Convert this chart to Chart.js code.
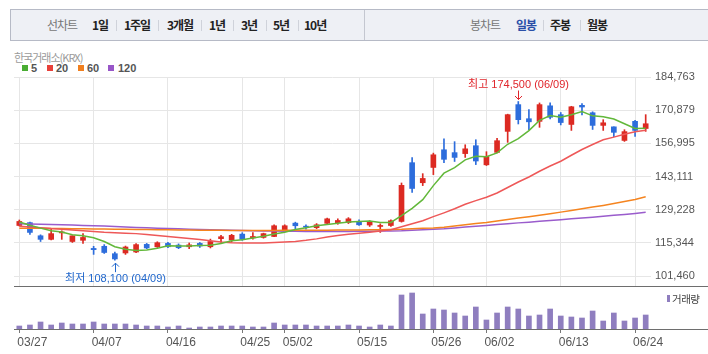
<!DOCTYPE html>
<html>
<head>
<meta charset="utf-8">
<script src="https://cdn.jsdelivr.net/npm/chart.js@4.4.1/dist/chart.umd.min.js"></script>
<style>
body { margin: 0; width: 708px; height: 354px; overflow: hidden; background: #fff; position: relative;
  font-family: "Noto Sans CJK KR", "Liberation Sans", sans-serif; }
.bar { position: absolute; left: 10px; top: 9px; width: 698px; height: 30px; background: #eef0f5;
  border: 1px solid #b6bac6; border-right: none; }
.div { position: absolute; left: 364px; top: 10px; width: 1px; height: 30px; background: #c4c7d0; }
.t { position: absolute; top: 17px; font-size: 12px; line-height: 16px; letter-spacing: -1px; color: #222;
  font-weight: bold; white-space: nowrap; }
.g { color: #777; font-weight: normal; }
.on { color: #2a4fa8; }
.sep { position: absolute; top: 20px; width: 1px; height: 11px; background: #cfd2da; }
.krx { position: absolute; left: 14px; top: 50px; font-size: 11px; line-height: 14px; color: #9a9a9a; letter-spacing: -1px; }
.sq { position: absolute; top: 65px; width: 6px; height: 6px; }
.lg { position: absolute; top: 61px; font: bold 11px/14px "Liberation Sans", sans-serif; color: #555; }
canvas { position: absolute; left: 0; }
.vol { position: absolute; left: 672px; top: 292px; font-size: 10.5px; line-height: 14px; color: #444; letter-spacing: -0.5px; }
</style>
</head>
<body>
<div class="bar"></div>
<div class="div"></div>
<span class="t g" style="left:47px">선차트</span>
<span class="t" style="left:92px">1일</span><i class="sep" style="left:116px"></i>
<span class="t" style="left:124px">1주일</span><i class="sep" style="left:158px"></i>
<span class="t" style="left:167px">3개월</span><i class="sep" style="left:201px"></i>
<span class="t" style="left:209px">1년</span><i class="sep" style="left:233px"></i>
<span class="t" style="left:241px">3년</span><i class="sep" style="left:266px"></i>
<span class="t" style="left:273px">5년</span><i class="sep" style="left:298px"></i>
<span class="t" style="left:304px">10년</span>
<span class="t g" style="left:470px">봉차트</span>
<span class="t on" style="left:516px">일봉</span><i class="sep" style="left:543px"></i>
<span class="t" style="left:550px">주봉</span><i class="sep" style="left:580px"></i>
<span class="t" style="left:587px">월봉</span>

<div class="krx">한국거래소(KRX)</div>
<i class="sq" style="left:22px;background:#49ad33"></i><span class="lg" style="left:31px">5</span>
<i class="sq" style="left:47px;background:#e8403a"></i><span class="lg" style="left:56px">20</span>
<i class="sq" style="left:78px;background:#f07f1f"></i><span class="lg" style="left:87px">60</span>
<i class="sq" style="left:108px;background:#9856c8"></i><span class="lg" style="left:118px">120</span>

<canvas id="price" width="708" height="287" style="top:0"></canvas>
<canvas id="volume" width="708" height="67" style="top:287px"></canvas>
<i class="sq" style="left:667px;top:295px;width:3px;height:7px;background:#8f7ebf"></i>
<div class="vol">거래량</div>

<script>
// 일봉 데이터 (2025)
const dates = ['03/27','03/28','03/31','04/01','04/02','04/03','04/04','04/07','04/08','04/09',
  '04/10','04/11','04/14','04/15','04/16','04/17','04/18','04/21','04/22','04/23',
  '04/24','04/25','04/28','04/29','04/30','05/02','05/07','05/08','05/09','05/12',
  '05/13','05/14','05/15','05/16','05/19','05/20','05/21','05/22','05/23','05/26',
  '05/27','05/28','05/29','05/30','06/02','06/04','06/05','06/09','06/10','06/11',
  '06/12','06/13','06/16','06/17','06/18','06/19','06/20','06/23','06/24','06/25'];
const tickDates = ['03/27','04/07','04/16','04/25','05/02','05/15','05/26','06/02','06/13','06/24'];
const priceTicks = [101460, 115344, 129228, 143111, 156995, 170879, 184763];

const opens = [122600,123800,118300,116800,119500,115900,116400,113000,113900,110800,
  111100,111500,114700,113700,115100,114400,113700,115100,113700,117100,
  116500,119000,117400,117600,118000,120800,123600,122300,121700,123500,
  123800,123800,124200,122800,122200,122600,124300,148900,140500,146900,
  154300,153100,152700,156000,148000,153200,162000,173200,167300,166200,
  172700,169000,164900,172900,169800,164500,163900,158200,166200,163200];
const highs = [124900,124000,118700,121300,120400,118300,119200,113900,114600,111500,
  114000,115000,115100,115800,115600,114900,115300,115500,116900,118500,
  118900,119600,119600,119400,122900,122900,124000,122900,123400,125700,
  125400,125900,125000,124600,123300,125000,140400,151000,144300,152900,
  158900,157700,156400,158500,153500,159100,169200,174500,171100,173900,
  173900,169900,172500,173600,170200,166900,163900,162700,166600,169000];
const lows = [122400,118900,115900,116600,116800,115500,115100,110500,110900,108100,
  110500,111200,112900,113400,113300,112900,112900,113400,113200,115500,
  115700,116400,116900,117300,117900,120100,120800,121100,121300,123100,
  123100,123400,122600,122200,119700,122200,124000,136500,139300,143900,
  148900,149400,151100,148100,147700,153000,157400,165100,162700,163700,
  167200,164700,162400,168900,162800,162400,159800,157800,159900,162000];
const closes = [124300,119700,116800,119200,119700,118300,117600,112500,111300,108600,
  113600,114600,113200,115400,113700,113300,114500,114000,115900,117900,
  118500,116800,118000,119200,122500,122500,122500,121900,122900,125400,
  124700,125400,122900,124200,122500,124600,139400,138100,142300,152200,
  150300,151100,154700,149600,151500,158100,169000,166900,166000,173200,
  167900,165700,172300,172200,164500,165600,161600,161900,162400,165200];

// 이동평균선
const ma5 = [124100,122700,121500,120400,119900,118700,118300,117500,115900,113700,
  112700,112100,112300,113100,114100,114000,114000,114200,114300,115100,
  116200,116600,117400,118100,119000,119800,120900,121700,122500,123000,
  123500,124100,124300,124500,123900,123900,126700,129800,133400,139300,
  144500,146800,150100,151600,151400,153000,156600,159000,162300,166600,
  168600,167900,169000,170300,168500,168100,167200,165200,163200,163300];
const ma20 = [122300,122000,121700,121300,121000,120700,120400,120100,119800,119600,
  119400,119200,118800,118400,118000,117600,117200,116700,116200,115700,
  115400,115300,115300,115300,115500,115700,115900,116400,117000,117800,
  118400,118900,119400,119800,120300,120800,122100,123300,124600,126300,
  127900,129600,131500,133000,134400,136200,138500,140800,142900,145300,
  147500,149500,152000,154400,156500,158500,159600,160800,161800,162500];
const ma60 = [121500,121450,121400,121350,121300,121250,121200,121150,121100,121050,
  121000,120950,120900,120850,120800,120750,120700,120650,120600,120600,
  120550,120550,120550,120550,120550,120600,120600,120600,120650,120650,
  120700,120700,120750,120800,120850,120950,121000,121200,121400,121600,
  121900,122400,122900,123400,123900,124500,125100,125700,126300,126900,
  127500,128200,128900,129600,130300,131000,131800,132600,133500,134600];
const ma120 = [123300,123200,123100,123000,122900,122800,122650,122500,122350,122200,
  122000,121800,121650,121500,121350,121200,121050,120900,120800,120700,
  120600,120500,120400,120300,120250,120200,120150,120100,120100,120100,
  120100,120100,120150,120200,120250,120300,120400,120600,120800,121000,
  121250,121600,121950,122300,122650,123000,123350,123700,124000,124350,
  124700,125050,125400,125750,126100,126450,126850,127250,127650,128100];

// 거래량 (천주)
const volume = [300,400,700,400,600,500,500,700,500,500,
  500,400,300,300,200,300,100,200,200,300,
  300,300,200,200,600,400,400,400,300,300,
  300,400,300,200,400,300,3400,3600,1500,2000,
  1900,1600,1300,2200,900,1600,2200,2000,1300,1400,
  2000,1300,1200,1100,1800,800,1600,800,1100,1400];

const UP = '#dc2a22', DOWN = '#2d6ddc';
const candleColors = opens.map((o, i) => closes[i] >= o ? UP : DOWN);
const tickIdx = tickDates.map(d => dates.indexOf(d));

Chart.defaults.font.family = '"Liberation Sans", Arial, sans-serif';
Chart.defaults.color = '#555';

const sepLine = {
  id: 'sepLine',
  afterDraw(chart, args, opts) {
    const ctx = chart.ctx;
    const y = Math.round(chart.chartArea.bottom) - 0.5 + (opts.shift || 0);
    ctx.save();
    ctx.strokeStyle = '#6e6e6e';
    ctx.lineWidth = 1;
    ctx.beginPath();
    ctx.moveTo(chart.chartArea.left, y);
    ctx.lineTo(708, y);
    ctx.stroke();
    ctx.restore();
  }
};

const marks = {
  id: 'marks',
  afterDatasetsDraw(chart) {
    const ctx = chart.ctx, x = chart.scales.x, y = chart.scales.y;
    const hi = Math.max(...highs), lo = Math.min(...lows);
    const hiIdx = highs.indexOf(hi), loIdx = lows.indexOf(lo);
    ctx.save();
    ctx.font = '11px "Liberation Sans", "Noto Sans CJK KR", sans-serif';
    ctx.textAlign = 'center';
    ctx.textBaseline = 'middle';
    ctx.lineWidth = 1;

    // 최고
    let px = Math.round(x.getPixelForValue(hiIdx)) + 0.5;
    let py = y.getPixelForValue(hi);
    ctx.fillStyle = ctx.strokeStyle = '#e0252b';
    ctx.fillText('최고 ' + hi.toLocaleString('en-US') + ' (' + dates[hiIdx] + ')', px, py - 17);
    ctx.beginPath();
    ctx.moveTo(px, py - 11); ctx.lineTo(px, py - 2);
    ctx.moveTo(px - 3.5, py - 5.5); ctx.lineTo(px, py - 2); ctx.lineTo(px + 3.5, py - 5.5);
    ctx.stroke();

    // 최저
    px = Math.round(x.getPixelForValue(loIdx)) + 0.5;
    py = y.getPixelForValue(lo);
    ctx.fillStyle = ctx.strokeStyle = '#1f66cc';
    ctx.fillText('최저 ' + lo.toLocaleString('en-US') + ' (' + dates[loIdx] + ')', px, py + 19);
    ctx.beginPath();
    ctx.moveTo(px, py + 12); ctx.lineTo(px, py + 3);
    ctx.moveTo(px - 3.5, py + 6.5); ctx.lineTo(px, py + 3); ctx.lineTo(px + 3.5, py + 6.5);
    ctx.stroke();
    ctx.restore();
  }
};

function maLine(label, data, color) {
  return { type: 'line', label: label, data: data, borderColor: color, borderWidth: 1.5,
    pointRadius: 0, tension: 0, order: 1 };
}

new Chart(document.getElementById('price'), {
  type: 'bar',
  data: {
    labels: dates,
    datasets: [
      maLine('5', ma5, '#62b83a'),
      maLine('20', ma20, '#ee5858'),
      maLine('60', ma60, '#f5841f'),
      maLine('120', ma120, '#9a5ccc'),
      { label: 'body', data: opens.map((o, i) => [o, closes[i]]), backgroundColor: candleColors,
        barThickness: 5, grouped: false, minBarLength: 1, order: 2 },
      { label: 'wick', data: lows.map((l, i) => [l, highs[i]]), backgroundColor: candleColors,
        barThickness: 1, grouped: false, order: 3 }
    ]
  },
  options: {
    responsive: false,
    animation: false,
    devicePixelRatio: 1,
    layout: { padding: { left: 14, top: 77, right: 0, bottom: 0 } },
    plugins: { legend: { display: false }, tooltip: { enabled: false }, sepLine: {} },
    scales: {
      x: {
        offset: true,
        grid: { offset: false, color: '#e6e6e6', drawTicks: false },
        border: { display: false },
        ticks: { display: false },
        afterBuildTicks: s => { s.ticks = tickIdx.map(v => ({ value: v })); },
        afterFit: s => { s.height = 0; }
      },
      y: {
        position: 'right',
        min: 96857,
        max: 184763,
        grid: { color: '#e6e6e6', drawTicks: false },
        border: { display: false },
        ticks: { padding: 4, font: { size: 11 }, color: '#555',
          callback: v => v.toLocaleString('en-US') },
        afterBuildTicks: s => { s.ticks = priceTicks.map(v => ({ value: v })); },
        afterFit: s => { s.width = 57; s.paddingTop = 0; s.paddingBottom = 0; }
      }
    }
  },
  plugins: [sepLine, marks]
});

new Chart(document.getElementById('volume'), {
  type: 'bar',
  data: {
    labels: dates,
    datasets: [{ label: '거래량', data: volume, backgroundColor: '#8f7ebf', barThickness: 5 }]
  },
  options: {
    responsive: false,
    animation: false,
    devicePixelRatio: 1,
    layout: { padding: { left: 14, top: 1, right: 57, bottom: 0 } },
    plugins: { legend: { display: false }, tooltip: { enabled: false }, sepLine: { shift: 1 } },
    scales: {
      x: {
        offset: true,
        grid: { offset: false, drawOnChartArea: false, drawTicks: true, tickLength: 4, tickColor: '#777' },
        border: { display: false },
        ticks: { autoSkip: false, maxRotation: 0, align: 'start', labelOffset: -2, padding: 2,
          font: { size: 12 }, color: '#555' },
        afterBuildTicks: s => { s.ticks = tickIdx.map(v => ({ value: v })); },
        afterFit: s => { s.height = 25; }
      },
      y: { display: false, min: 0, max: 4100 }
    }
  },
  plugins: [sepLine]
});
</script>
</body>
</html>
